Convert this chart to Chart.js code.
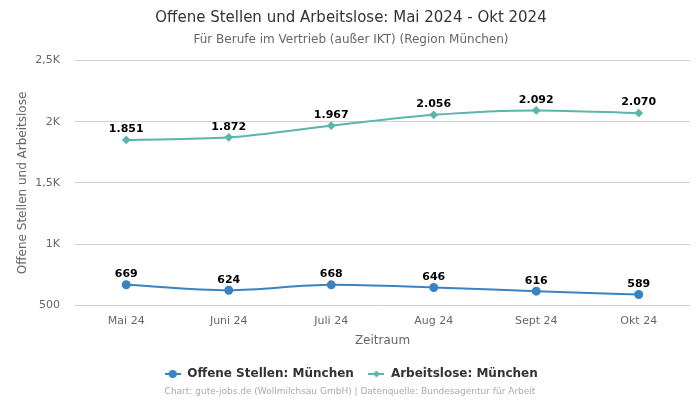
<!DOCTYPE html>
<html><head><meta charset="utf-8">
<script src="https://cdn.jsdelivr.net/npm/chart.js@4"></script>
<style>html,body{margin:0;padding:0;background:#fff}#w{width:700px;height:400px}</style>
</head><body><div id="w"><canvas id="c"></canvas></div>
<script>
const categories = ["Mai 24","Juni 24","Juli 24","Aug 24","Sept 24","Okt 24"];
const offeneStellen = [669,624,668,646,616,589];
const arbeitslose = [1851,1872,1967,2056,2092,2070];
const yTicks = [500,1000,1500,2000,2500];
const yTickLabels = ["500","1K","1,5K","2K","2,5K"];
const FONT = "'DejaVu Sans', sans-serif";
const C1 = "#3a83c1", C2 = "#5ab5ad";

function legendIcon(color, style){
  const cv = document.createElement('canvas'); cv.width = 16; cv.height = 10;
  const g = cv.getContext('2d');
  g.strokeStyle = color; g.lineWidth = 2; g.beginPath(); g.moveTo(0,5); g.lineTo(16,5); g.stroke();
  g.fillStyle = color; g.beginPath();
  if(style==='circle'){ g.arc(8,5,4,0,Math.PI*2);} else { g.moveTo(8,1.5);g.lineTo(11.5,5);g.lineTo(8,8.5);g.lineTo(4.5,5);g.closePath(); }
  g.fill(); return cv;
}

const labelPlugin = {
  id:'lbl',
  afterDatasetsDraw(chart){
    const ctx = chart.ctx; ctx.save();
    ctx.font = "bold 11px " + FONT; ctx.fillStyle = "#000"; ctx.textAlign='center'; ctx.textBaseline='bottom';
    chart.data.datasets.forEach((ds,i)=>{
      chart.getDatasetMeta(i).data.forEach((p,j)=>{
        ctx.fillText(ds.data[j].toLocaleString('de-DE'), p.x, p.y - 5);
      });
    });
    ctx.restore();
  }
};

new Chart(document.getElementById('c'), {
  type:'line',
  data:{ labels: categories, datasets:[
    {label:'Offene Stellen: München', data: offeneStellen, borderColor:C1, backgroundColor:C1, pointStyle:'circle', pointRadius:3.5, pointHoverRadius:3.5, borderWidth:2, tension:0.4, cubicInterpolationMode:'monotone'},
    {label:'Arbeitslose: München', data: arbeitslose, borderColor:C2, backgroundColor:C2, pointStyle:'rectRot', pointRadius:3, pointHoverRadius:3, borderWidth:2, tension:0.4, cubicInterpolationMode:'monotone'}
  ]},
  options:{
    responsive:true, maintainAspectRatio:false, animation:false,
    layout:{padding:{left:12,right:10,top:0,bottom:10}},
    plugins:{
      title:{display:true, text:'Offene Stellen und Arbeitslose: Mai 2024 - Okt 2024', color:'#333', font:{family:FONT,size:15,weight:'normal'}, padding:{top:9,bottom:4}},
      subtitle:{display:true, text:'Für Berufe im Vertrieb (außer IKT) (Region München)', color:'#666', font:{family:FONT,size:12}, padding:{top:2,bottom:13}},
      legend:{position:'bottom', labels:{color:'#333', font:{family:FONT,size:12,weight:'bold'}, padding:14, usePointStyle:true, pointStyleWidth:17,
        generateLabels(chart){ return chart.data.datasets.map((d,i)=>({text:d.label, fontColor:'#333', pointStyle: legendIcon(d.borderColor, i===0?'circle':'diamond'), datasetIndex:i, hidden:false, lineWidth:0, strokeStyle:'transparent', fillStyle:'transparent'})); }}},
      tooltip:{enabled:false}
    },
    scales:{
      x:{offset:true, grid:{display:false}, border:{display:false}, ticks:{color:'#666', font:{family:FONT,size:11}, padding:1},
         title:{display:true, text:'Zeitraum', color:'#666', font:{family:FONT,size:12}, padding:{top:5,bottom:6}}},
      y:{min:500, max:2500, border:{display:false}, grid:{color:(c)=> c.tick && c.tick.value===500 ? '#c6d0e2' : '#d0d0d0', drawTicks:false},
         afterBuildTicks(ax){ ax.ticks = yTicks.map(v=>({value:v})); },
         afterFit(ax){ ax.width = 63; },
         ticks:{color:'#666', font:{family:FONT,size:11}, padding:15, callback:(v)=>yTickLabels[yTicks.indexOf(v)]},
         title:{display:true, text:'Offene Stellen und Arbeitslose', color:'#666', font:{family:FONT,size:12}}}
    }
  },
  plugins:[labelPlugin, {
    id:'footer',
    afterDraw(chart){ const ctx=chart.ctx; ctx.save(); ctx.font="9px "+FONT; ctx.fillStyle='#aaa'; ctx.textAlign='center'; ctx.textBaseline='middle';
      ctx.fillText('Chart: gute-jobs.de (Wollmilchsau GmbH) | Datenquelle: Bundesagentur für Arbeit', 350, 392); ctx.restore(); }
  }]
});
</script></body></html>
